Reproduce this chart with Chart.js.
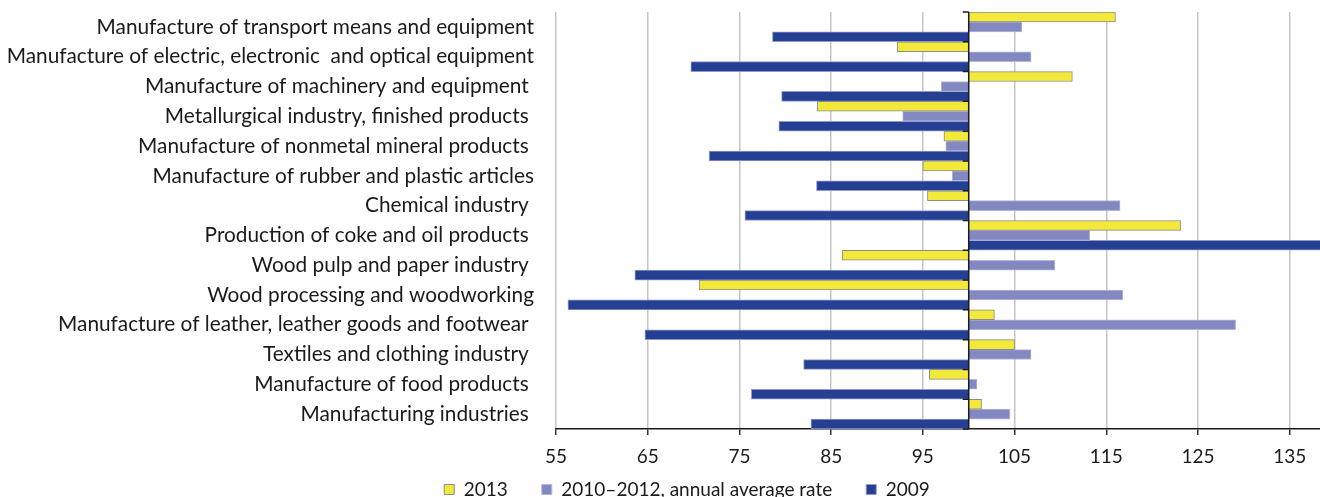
<!DOCTYPE html>
<html>
<head>
<meta charset="utf-8">
<script src="https://cdn.jsdelivr.net/npm/chart.js@4"></script>
<style>
  html, body { margin: 0; padding: 0; background: #fff; }
  #wrap { width: 1320px; height: 497px; }
</style>
</head>
<body>
<div id="wrap"><canvas id="chart"></canvas></div>
<script>
const categories = [
  'Manufacture of transport means and equipment',
  'Manufacture of electric, electronic  and optical equipment',
  'Manufacture of machinery and equipment ',
  'Metallurgical industry, finished products ',
  'Manufacture of nonmetal mineral products ',
  'Manufacture of rubber and plastic articles',
  'Chemical industry ',
  'Production of coke and oil products ',
  'Wood pulp and paper industry ',
  'Wood processing and woodworking',
  'Manufacture of leather, leather goods and footwear ',
  'Textiles and clothing industry ',
  'Manufacture of food products ',
  'Manufacturing industries '
];

const values2013 = [116.0, 92.2, 111.3, 83.5, 97.3, 95.0, 95.5, 123.1, 86.2, 70.6, 102.8, 105.0, 95.7, 101.4];
const valuesAvg = [105.8, 106.8, 97.0, 92.8, 97.5, 98.2, 116.5, 113.2, 109.4, 116.8, 129.1, 106.8, 100.9, 104.5];
const values2009 = [78.6, 69.7, 79.6, 79.3, 71.7, 83.4, 75.6, 140.0, 63.6, 56.3, 64.7, 82.0, 76.3, 82.8];

const seriesNames = ['2013', '2010\u20132012, annual average rate', '2009'];
const xTicks = [55, 65, 75, 85, 95, 105, 115, 125, 135];
const baseValue = 100;

const FONT = 'Lato';

// vertical axis line at 100 with small ticks between categories
const baseLine = {
  id: 'baseLine',
  afterDatasetsDraw(chart) {
    const { ctx, chartArea, scales: { x, y } } = chart;
    const px = x.getPixelForValue(baseValue);
    const band = y.getPixelForValue(1) - y.getPixelForValue(0);
    ctx.save();
    ctx.strokeStyle = '#1a1a1a';
    ctx.lineWidth = 1.5;
    ctx.beginPath();
    ctx.moveTo(px, chartArea.top);
    ctx.lineTo(px, chartArea.bottom);
    for (let i = 0; i <= categories.length; i++) {
      const py = y.getPixelForValue(i) - band / 2;
      ctx.moveTo(px - 6, py);
      ctx.lineTo(px, py);
    }
    ctx.stroke();
    ctx.restore();
  }
};

// legend: wide item spacing, but a short box, nudged under the plot
const legendPlace = {
  id: 'legendPlace',
  beforeLayout(chart) {
    const lg = chart.legend;
    if (lg && !lg._fitPatched) {
      const fit = lg.fit;
      lg.fit = function () {
        fit.call(this);
        this.height = 25;
      };
      lg._fitPatched = true;
    }
  },
  afterLayout(chart) {
    const lg = chart.legend;
    lg.top -= 26;
    lg.height = 80;
    lg.bottom = lg.top + lg.height;
    lg.left += 54;
    lg.width = lg.right - lg.left;
  }
};

new Chart(document.getElementById('chart'), {
  type: 'bar',
  data: {
    labels: categories,
    datasets: [
      {
        label: seriesNames[0],
        data: values2013,
        base: baseValue,
        backgroundColor: '#f2e93a',
        borderColor: '#8c8c8c',
        borderWidth: 1
      },
      {
        label: seriesNames[1],
        data: valuesAvg,
        base: baseValue,
        backgroundColor: '#8388c1',
        borderColor: '#b3b6dc',
        borderWidth: 1
      },
      {
        label: seriesNames[2],
        data: values2009,
        base: baseValue,
        backgroundColor: '#253f93',
        borderColor: '#8f97cc',
        borderWidth: 1
      }
    ]
  },
  options: {
    indexAxis: 'y',
    responsive: true,
    maintainAspectRatio: false,
    animation: false,
    categoryPercentage: 1,
    barPercentage: 1,
    layout: {
      padding: { top: 12, left: 0, right: 0, bottom: 0 }
    },
    plugins: {
      legend: {
        position: 'bottom',
        labels: {
          boxWidth: 10,
          boxHeight: 10,
          padding: 34,
          color: '#1a1a1a',
          font: { family: FONT, size: 19 }
        }
      },
      tooltip: { enabled: false }
    },
    scales: {
      x: {
        type: 'linear',
        min: 55,
        max: 138.3,
        afterBuildTicks: (scale) => {
          scale.ticks = xTicks.map(v => ({ value: v }));
        },
        afterFit: (scale) => {
          scale.height = 43;
          scale.paddingLeft = 0;
          scale.paddingRight = 0;
        },
        grid: {
          color: '#c6c6c6',
          lineWidth: 1.5,
          tickColor: '#333',
          tickLength: 6,
          tickWidth: 1.5
        },
        border: { color: '#1a1a1a', width: 1.5 },
        ticks: {
          color: '#1a1a1a',
          padding: 10,
          maxRotation: 0,
          autoSkip: false,
          font: { family: FONT, size: 19 }
        }
      },
      y: {
        afterFit: (scale) => {
          scale.width = 556;
          scale.paddingTop = 0;
          scale.paddingBottom = 0;
        },
        grid: { display: false, drawTicks: false },
        border: { display: false },
        ticks: {
          color: '#1a1a1a',
          padding: 22,
          autoSkip: false,
          font: { family: FONT, size: 20.8 }
        }
      }
    }
  },
  plugins: [baseLine, legendPlace]
});
</script>
</body>
</html>
